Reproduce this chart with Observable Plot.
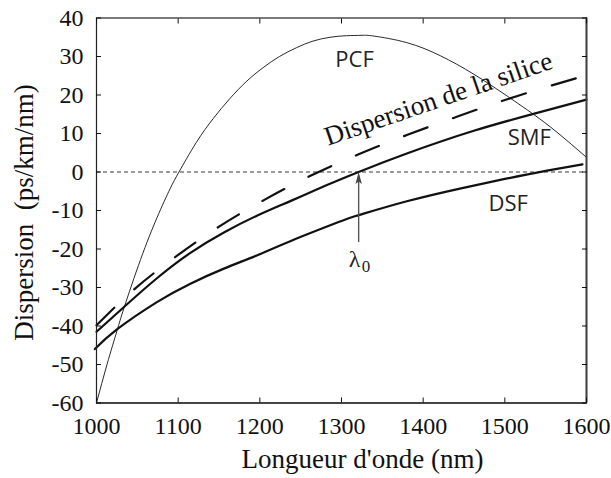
<!DOCTYPE html>
<html><head><meta charset="utf-8">
<script src="https://cdn.jsdelivr.net/npm/d3@7"></script>
<script src="https://cdn.jsdelivr.net/npm/@observablehq/plot@0.6"></script>
<style>
html,body{margin:0;padding:0;background:#fff;}
#chart svg{display:block;}
g[aria-label="axis-title"] text{letter-spacing:1.6px;}
g[aria-label="silica-label"] text{letter-spacing:1.2px;}
</style></head><body><div id="chart"></div>
<script>
// ---- tick values & labels ----
const xTicks = [1000, 1100, 1200, 1300, 1400, 1500, 1600];
const xTickLabels = ["1000", "1100", "1200", "1300", "1400", "1500", "1600"];
const yTicks = [40, 30, 20, 10, 0, -10, -20, -30, -40, -50, -60];
const yTickLabels = ["40", "30", "20", "10", "0", "-10", "-20", "-30", "-40", "-50", "-60"];

// ---- series (wavelength nm, dispersion ps/km/nm) ----
const pcfWavelength = [1000, 1013, 1025, 1034, 1054, 1074, 1090, 1101, 1122, 1143, 1163, 1184, 1204, 1224, 1245, 1265, 1286, 1306, 1325, 1340, 1380, 1421, 1462, 1503, 1535, 1564, 1600];
const pcfDispersion = [-60, -49.9, -41.3, -35.1, -22.7, -11.9, -4.4, 0, 7.6, 13.9, 19.0, 23.6, 27.1, 30.0, 32.3, 34.0, 35.0, 35.4, 35.5, 35.3, 33.6, 30.2, 25.4, 19.7, 15.0, 10.3, 3.8];

const smfWavelength = [1000, 1034, 1074, 1115, 1156, 1197, 1238, 1280, 1321, 1380, 1462, 1535, 1600];
const smfDispersion = [-41.5, -35.0, -27.6, -21.0, -15.7, -11.3, -7.5, -3.6, 0, 4.8, 10.7, 15.1, 18.8];

const dsfWavelength = [998, 1025, 1074, 1115, 1156, 1197, 1238, 1299, 1321, 1380, 1445, 1500, 1550, 1595];
const dsfDispersion = [-46, -40.9, -33.8, -29, -25.1, -21.6, -17.9, -12.8, -11.2, -7.6, -4.3, -1.8, 0.3, 2.0];

const silicaWavelength = [1000, 1046, 1097, 1150, 1205, 1262, 1321, 1380, 1442, 1503, 1564, 1600];
const silicaDispersion = [-39.8, -30.5, -22.0, -14.2, -7.3, -1.0, 4.6, 9.6, 14.4, 18.9, 22.9, 25.1];

const seriesNames = ["PCF", "SMF", "DSF", "Dispersion de la silice"];
const lambdaZero = 1321;
const lambdaLabel = ["λ", "0"];
const xTitle = "Longueur d'onde (nm)";
const yTitle = "Dispersion\u00a0 (ps/km/nm)";

// ---- build tables ----
const toRows = (xs, ys) => xs.map((x, i) => ({x, y: ys[i]}));
const pcf = toRows(pcfWavelength, pcfDispersion);
const smf = toRows(smfWavelength, smfDispersion);
const dsf = toRows(dsfWavelength, dsfDispersion);
const silica = toRows(silicaWavelength, silicaDispersion);

// annotation anchors (data coordinates)
const seriesLabels = [
  {text: seriesNames[0], x: 1316, y: 27.3},
  {text: seriesNames[1], x: 1530, y: 7.0},
  {text: seriesNames[2], x: 1504, y: -10.1}
];
const silicaLabel = [{text: seriesNames[3], x: 1422, y: 16.9}];
const arrowData = [{x: lambdaZero, y1: -18.2, y2: -1}];
const arrowTip = [{x: lambdaZero, y: 0}];

const arrowHead = {
  draw(ctx) {
    ctx.moveTo(0, 0);
    ctx.lineTo(3.2, 12);
    ctx.lineTo(0, 9.5);
    ctx.lineTo(-3.2, 12);
    ctx.closePath();
  }
};

const serif = "'Liberation Serif', 'Times New Roman', serif";
const sans = "'Open Sans', 'Noto Sans', sans-serif";

const chart = Plot.plot({
  width: 611,
  height: 478,
  marginLeft: 96,
  marginRight: 25,
  marginTop: 17.5,
  marginBottom: 75.5,
  x: {domain: [1000, 1600]},
  y: {domain: [-60, 40]},
  style: {fontFamily: serif, fontSize: "24px", color: "#111", background: "#fff"},
  marks: [
    Plot.ruleY([0], {stroke: "#222", strokeWidth: 0.9, strokeDasharray: "4,3"}),
    Plot.line(pcf, {x: "x", y: "y", stroke: "#111", strokeWidth: 0.9, curve: "natural"}),
    Plot.line(silica, {x: "x", y: "y", stroke: "#111", strokeWidth: 2.2, strokeDasharray: "25,27", curve: "natural"}),
    Plot.line(smf, {x: "x", y: "y", stroke: "#111", strokeWidth: 2.2, curve: "natural"}),
    Plot.line(dsf, {x: "x", y: "y", stroke: "#111", strokeWidth: 2.2, curve: "natural"}),
    Plot.link(arrowData, {x1: "x", x2: "x", y1: "y1", y2: "y2", stroke: "#555", strokeWidth: 1.4}),
    Plot.dot(arrowTip, {x: "x", y: "y", symbol: arrowHead, fill: "#444", stroke: "none"}),
    Plot.text([lambdaLabel[0]], {x: () => lambdaZero, y: () => -24.6, text: d => d, lineAnchor: "bottom", textAnchor: "middle", dx: -4, fontSize: 24, fontFamily: serif, fill: "#222"}),
    Plot.text([lambdaLabel[1]], {x: () => lambdaZero, y: () => -24.6, text: d => d, lineAnchor: "bottom", textAnchor: "start", dx: 3, dy: 5, fontSize: 17, fontFamily: serif, fill: "#222"}),
    Plot.text(seriesLabels, {x: "x", y: "y", text: "text", lineAnchor: "bottom", textAnchor: "middle", fontSize: 22, fontFamily: sans, fill: "#222"}),
    Plot.text(silicaLabel, {x: "x", y: "y", text: "text", lineAnchor: "bottom", textAnchor: "middle", rotate: -19, fontSize: 27, fontFamily: serif, fill: "#111", ariaLabel: "silica-label"}),
    Plot.frame({stroke: "#222", strokeWidth: 1.2}),
    Plot.ruleX([1600], {stroke: "#444", strokeWidth: 2}),
    Plot.ruleY([-60], {stroke: "#444", strokeWidth: 2}),
    Plot.axisX(xTicks, {anchor: "bottom", tickSize: -5, tickPadding: 19, tickFormat: d => xTickLabels[xTicks.indexOf(d)], fontSize: 24, label: null}),
    Plot.axisX(xTicks, {anchor: "top", tickSize: -5, tickFormat: () => "", label: null}),
    Plot.axisY(yTicks, {anchor: "left", tickSize: -5, tickPadding: 18, tickFormat: d => yTickLabels[yTicks.indexOf(d)], fontSize: 24, label: null}),
    Plot.axisY(yTicks, {anchor: "right", tickSize: -5, tickFormat: () => "", label: null}),
    Plot.text([xTitle], {frameAnchor: "bottom", text: d => d, lineAnchor: "bottom", textAnchor: "middle", dx: 21, dy: 64.5, fontSize: 27, fontFamily: serif, fill: "#111", ariaLabel: "axis-title"}),
    Plot.text([yTitle], {frameAnchor: "left", text: d => d, lineAnchor: "bottom", textAnchor: "middle", rotate: -90, dx: -64, dy: 2, fontSize: 27, fontFamily: serif, fill: "#111", ariaLabel: "axis-title"})
  ]
});
document.getElementById("chart").appendChild(chart);
</script>
</body></html>
